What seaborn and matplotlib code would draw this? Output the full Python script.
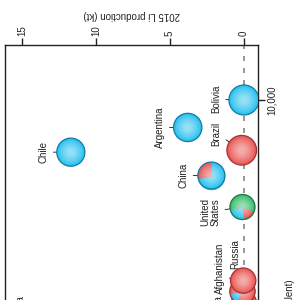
import numpy as np
import pandas as pd
import matplotlib
matplotlib.use('Agg')
import matplotlib.pyplot as plt
import matplotlib.ticker as mticker
import seaborn as sns

# data
countries = ['Canada', 'Afghanistan', 'Russia', 'Australia', 'United\nStates',
             'China', 'Brazil', 'Chile', 'Argentina', 'Bolivia']
production_kt = [0.0, 0.1, 0.05, 13.4, 0.1, 2.2, 0.15, 11.7, 3.8, 0.0]
resources_kt = [2100, 2300, 2500, 1900, 4400, 5600, 6800, 6700, 8100, 10000]
bubble_size = [640, 640, 640, 700, 625, 730, 880, 790, 800, 900]
brine_share = [0.0, 0.15, 0.0, 0.0, 0.25, 0.72, 0.0, 1.0, 1.0, 1.0]
rock_share = [1.0, 0.85, 1.0, 1.0, 0.17, 0.28, 1.0, 0.0, 0.0, 0.0]
clay_share = [0.0, 0.0, 0.0, 0.0, 0.58, 0.0, 0.0, 0.0, 0.0, 0.0]

prod_ticks = [0, 5, 10, 15]
res_ticks = [10000]
res_ticklabels = ['10,000']

df = pd.DataFrame({'country': countries, 'prod': production_kt, 'res': resources_kt,
                   'size': bubble_size, 'brine': brine_share, 'rock': rock_share,
                   'clay': clay_share})

colors = {'brine': '#2cc3f0', 'rock': '#ea5a58', 'clay': '#3dbd6c'}
edges = {'brine': '#1878a0', 'rock': '#a23434', 'clay': '#1f7a44'}

# label offsets in points (dx, dy) from the bubble centre
label_off = {'Bolivia': (-20, 0.5), 'Argentina': (-20, 0), 'Chile': (-19.5, 0),
             'Brazil': (-18, 12), 'China': (-20, 0), 'United\nStates': (-23, -3.5),
             'Russia': (-5.5, 19), 'Afghanistan': (-16, 16.5), 'Canada': (-18, -6),
             'Australia': (-17.5, 1.5)}

sns.set_theme(style='ticks')
plt.rcParams['font.family'] = ['Liberation Sans', 'DejaVu Sans']

fig = plt.figure(figsize=(3, 3), dpi=100)
ax = fig.add_axes([5 / 300, -0.5, 253 / 300, 1.35])
ax.set_yscale('log')
ax.set_xlim(16.15, -0.95)
ax.set_ylim(10 ** 2.8333, 10 ** 4.18333)

ax.axvline(0, color='#858585', ls=(0, (3, 4.2)), lw=1.2, zorder=0.5)

px2pt = 0.72


def wedge(a0, a1):
    t = np.radians(np.linspace(a0, a1, 80))
    xy = np.column_stack([np.r_[0, np.cos(t), 0], np.r_[0, np.sin(t), 0]])
    return xy, np.abs(xy).max()


for i, row in df.iterrows():
    s = row['size'] * px2pt ** 2
    z = 2 + i * 0.1
    shares = [(k, row[k]) for k in ['brine', 'rock', 'clay'] if row[k] > 0]
    main = max(shares, key=lambda kv: kv[1])[0]
    one = df.iloc[[i]]
    sns.scatterplot(data=one, x='prod', y='res', s=s, color=colors[main],
                    edgecolor='none', linewidth=0, ax=ax, zorder=z, legend=False)
    if len(shares) > 1:
        a = 190.0
        for k, v in shares:
            a1 = a + v * 360
            xy, mx = wedge(a, a1)
            ax.scatter(row['prod'], row['res'], marker=xy, s=s * mx ** 2,
                       facecolor=colors[k], edgecolor=colors[k], linewidth=0.3,
                       zorder=z + 0.02)
            a = a1
    for f in [0.85, 0.7, 0.55, 0.4, 0.25]:
        sns.scatterplot(data=one, x='prod', y='res', s=s * f ** 2, color='white',
                        alpha=0.13, edgecolor='none', linewidth=0, ax=ax,
                        zorder=z + 0.04, legend=False)
    ax.scatter(row['prod'], row['res'], s=s, facecolor='none',
               edgecolor=edges[main], linewidth=0.9, zorder=z + 0.06)
    dx, dy = label_off[row['country']]
    ax.annotate(row['country'], xy=(row['prod'], row['res']), xytext=(dx, dy),
                textcoords='offset points', rotation=90, ha='center', va='center',
                fontsize=7, color='#222222', linespacing=1.0, zorder=1,
                arrowprops=dict(arrowstyle='-', color='#333333', lw=0.7,
                                shrinkA=1, shrinkB=0))

ax.xaxis.tick_top()
ax.xaxis.set_label_position('top')
ax.set_xticks(prod_ticks)
ax.set_xticklabels([str(t) for t in prod_ticks], rotation=90, fontsize=7)
ax.tick_params(axis='x', direction='out', length=5, width=1, pad=1.5,
               colors='#222222')
ax.set_xlabel('2015 Li production (kt)', rotation=180, fontsize=7, labelpad=5,
              color='#222222')

ax.yaxis.tick_right()
ax.set_yticks(res_ticks)
ax.set_yticklabels(res_ticklabels, rotation=90, fontsize=7)
ax.yaxis.set_minor_locator(mticker.NullLocator())
for lab in ax.get_yticklabels():
    lab.set_va('center')
ax.tick_params(axis='y', direction='out', length=5, width=1, pad=1.5,
               colors='#222222')
ax.set_ylabel('')

for sp in ax.spines.values():
    sp.set_visible(True)
    sp.set_color('#222222')
    sp.set_linewidth(1.0)

fig.text(290 / 300, 1 - 279 / 300, 'Resources (kt Li equivalent)', rotation=90,
         ha='center', va='top', fontsize=7, color='#222222')

fig.savefig('out.png', dpi=100, facecolor='white')
